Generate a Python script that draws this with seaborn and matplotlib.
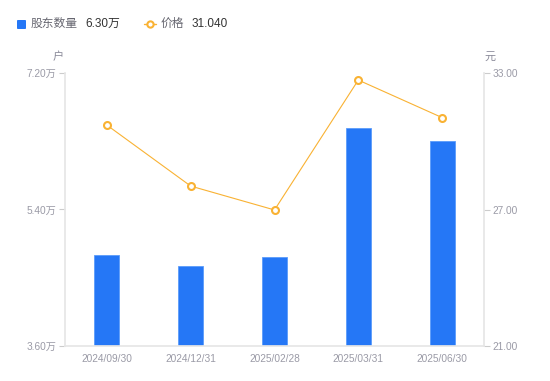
import matplotlib
matplotlib.use("Agg")
import matplotlib.pyplot as plt
import seaborn as sns
import numpy as np
import pandas as pd
from matplotlib.lines import Line2D
from matplotlib.patches import FancyBboxPatch

dates = ["2024/09/30", "2024/12/31", "2025/02/28", "2025/03/31", "2025/06/30"]
holders = [4.80, 4.655, 4.775, 6.475, 6.30]  # 万户
price = [30.71, 28.03, 26.98, 32.69, 31.04]
left_ticks = [3.60, 5.40, 7.20]
right_ticks = [21.00, 27.00, 33.00]

sns.set_theme(style="white")
plt.rcParams['font.family'] = ['Liberation Sans', 'Noto Sans CJK SC', 'DejaVu Sans']

df = pd.DataFrame({"date": dates, "holders": holders, "price": price})

fig = plt.figure(figsize=(5.5, 3.81), dpi=100)
ax = fig.add_axes([65/550, 35/381, (484-65)/550, (346-73)/381])
bar_color = "#2577F6"
line_color = "#F9B233"
grid_c = "#E6E6E6"
tick_c = "#9A9AA6"

sns.barplot(data=df, x="date", y="holders", ax=ax, color=bar_color, width=0.3,
            saturation=1, edgecolor="#5B9BFA", linewidth=0.6)
ax.set_ylim(3.6, 7.2)
ax.set_xlim(-0.5, 4.5)
ax.set_yticks(left_ticks)
ax.set_yticklabels([f"{v:.2f}万" for v in left_ticks])
ax.set_xlabel("")
ax.set_ylabel("")

ax2 = ax.twinx()
sns.lineplot(data=df, x="date", y="price", ax=ax2, color=line_color, linewidth=0.8,
             marker="o", markersize=5, markerfacecolor="white",
             markeredgecolor=line_color, markeredgewidth=1.5, sort=False)
ax2.set_ylim(21, 33)
ax2.set_xlim(-0.5, 4.5)
ax2.set_yticks(right_ticks)
ax2.set_yticklabels([f"{v:.2f}" for v in right_ticks])
ax2.set_ylabel("")
ax2.set_xlabel("")

for a in (ax, ax2):
    for s in a.spines.values():
        s.set_visible(False)
ax.spines['left'].set_visible(True)
ax.spines['left'].set_color(grid_c)
ax.spines['bottom'].set_visible(True)
ax.spines['bottom'].set_color(grid_c)
ax2.spines['right'].set_visible(True)
ax2.spines['right'].set_color(grid_c)

ax.tick_params(axis='y', colors=tick_c, labelsize=7.3, length=4, width=0.8, color="#CCCCCC", pad=2, left=True)
ax.tick_params(axis='x', colors=tick_c, labelsize=7.3, length=0, pad=6)
ax2.tick_params(axis='y', colors=tick_c, labelsize=7.3, length=4, width=0.8, color="#CCCCCC", pad=2, right=True)
for lbl in ax.get_yticklabels() + ax.get_xticklabels() + ax2.get_yticklabels():
    lbl.set_color(tick_c)

fig.text(58/550, 1-57/381, "户", ha="center", va="center", fontsize=8, color="#8A8A99")
fig.text(490/550, 1-57/381, "元", ha="center", va="center", fontsize=8, color="#8A8A99")

# legend
sq = FancyBboxPatch((17/550, 1-29/381), 9/550, 9/381, boxstyle="round,pad=0,rounding_size=0.002",
                    transform=fig.transFigure, facecolor=bar_color, edgecolor="none")
fig.patches.append(sq)
fig.text(31/550, 1-24/381, "股东数量", ha="left", va="center", fontsize=8.5, color="#666670")
fig.text(85/550, 1-24/381, "6.30万", ha="left", va="center", fontsize=8.5, color="#333333")
fig.lines.append(Line2D([144/550, 156/550], [1-24/381, 1-24/381], transform=fig.transFigure,
                        color=line_color, linewidth=1))
fig.lines.append(Line2D([150/550], [1-24/381], transform=fig.transFigure, marker="o",
                        markersize=4.5, markerfacecolor="white", markeredgecolor=line_color,
                        markeredgewidth=1.5, linestyle="none"))
fig.text(161/550, 1-24/381, "价格", ha="left", va="center", fontsize=8.5, color="#666670")
fig.text(192/550, 1-24/381, "31.040", ha="left", va="center", fontsize=8.5, color="#333333")

fig.savefig("out.png", dpi=100)
